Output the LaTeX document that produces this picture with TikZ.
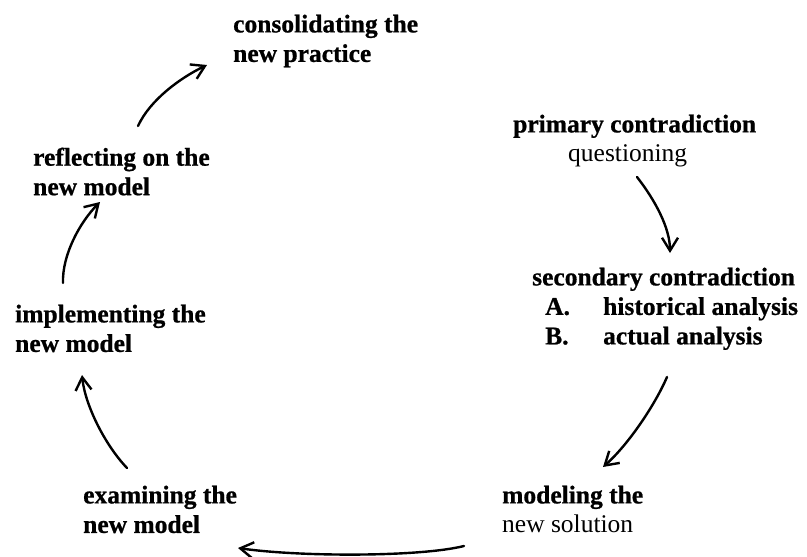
\documentclass[tikz,border=0pt]{standalone}
\usepackage{fontspec}
\setmainfont{Liberation Serif}[BoldFeatures={FakeBold=0.8}]
\usetikzlibrary{arrows.meta}
\begin{document}
\begin{tikzpicture}[x=1pt,y=-1pt,
  lbl/.style={anchor=north west, inner sep=0pt, align=left, font=\fontsize{25.5}{29.5}\selectfont\bfseries},
  flow/.style={line width=2.4pt, line cap=round, -{Straight Barb[length=13pt,width=16pt,line width=2.4pt]}}]
\useasboundingbox (0,0) rectangle (807,557);
% labels
\node[lbl] (cons) at (233,14.5) {consolidating the\\new practice};
\node[lbl] (refl) at (33,147.5) {reflecting on the\\new model};
\node[lbl] (prim) at (513,114.5) {primary contradiction\\\hspace*{55pt}\mdseries questioning};
\node[lbl] (sec) at (532,267.5) {secondary contradiction\\\hspace*{13pt}\makebox[58pt][l]{A.}historical analysis\\\hspace*{13pt}\makebox[58pt][l]{B.}actual analysis};
\node[lbl] (model) at (502,485.5) {modeling the\\\mdseries new solution};
\node[lbl] (exam) at (83,485.5) {examining the\\new model};
\node[lbl] (impl) at (15,304.5) {implementing the\\new model};
% connector ends
\coordinate (a1s) at (637,177);
\coordinate (a1e) at (670,253);
\coordinate (a2s) at (667,377);
\coordinate (a2e) at (603,467);
\coordinate (a3s) at (464,546);
\coordinate (a3e) at (238,548);
\coordinate (a4s) at (127,468);
\coordinate (a4e) at (82,375);
\coordinate (a5s) at (63,283);
\coordinate (a5e) at (100,202);
\coordinate (a6s) at (138,126);
\coordinate (a6e) at (207,65);
% connectors
\draw[flow] (a1s) .. controls (655,200) and (670,228) .. (a1e);
\draw[flow] (a2s) .. controls (655,405) and (628,445) .. (a2e);
\draw[flow] (a3s) .. controls (420,557) and (300,557) .. (a3e);
\draw[flow] (a4s) .. controls (105,445) and (85,405) .. (a4e);
\draw[flow] (a5s) .. controls (62,255) and (80,222) .. (a5e);
\draw[flow] (a6s) .. controls (150,100) and (180,78) .. (a6e);
\end{tikzpicture}
\end{document}
